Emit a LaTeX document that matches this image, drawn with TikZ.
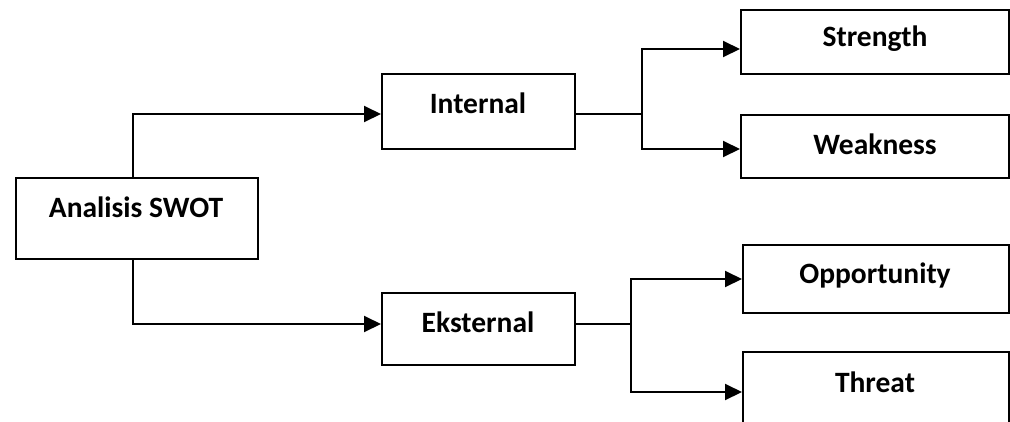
\documentclass[tikz,border=0pt]{standalone}
\usepackage{fontspec}
\setmainfont{Carlito}
\usetikzlibrary{arrows.meta}
\begin{document}
\begin{tikzpicture}[x=1pt,y=-1pt,
  box/.style={draw=black,line width=2pt,anchor=north west,inner sep=0pt},
  lbl/.style={font=\bfseries\fontsize{29.5}{34}\selectfont,inner sep=0pt},
  conn/.style={line width=2pt},
  arr/.style={line width=2pt,-{Triangle[length=17pt,width=16pt]}}]
\useasboundingbox (0,0) rectangle (1010,421);
\clip (0,0) rectangle (1010,421);
% boxes
\node[box,minimum width=242pt,minimum height=81pt] (swot) at (15,177) {};
\node[box,minimum width=193pt,minimum height=75pt] (internal) at (381,73) {};
\node[box,minimum width=193pt,minimum height=72pt] (eksternal) at (381,292) {};
\node[box,minimum width=268pt,minimum height=64pt] (strength) at (740,9) {};
\node[box,minimum width=268pt,minimum height=63pt] (weakness) at (740,114) {};
\node[box,minimum width=266pt,minimum height=68pt] (opportunity) at (742,244) {};
\node[box,minimum width=266pt,minimum height=90pt] (threat) at (742,351) {};
% texts
\node[lbl] (tswot) at (136,207) {Analisis SWOT};
\node[lbl] (tinternal) at (478,103) {Internal};
\node[lbl] (teksternal) at (478,322) {Eksternal};
\node[lbl] (tstrength) at (875,39) {Strength};
\node[lbl] (tweakness) at (875,144) {Weakness};
\node[lbl] (topportunity) at (875,275) {Opportunity};
\node[lbl] (tthreat) at (875,382) {Threat};
% connectors
\coordinate (s1) at (133,177);
\coordinate (s2) at (133,258);
\draw[arr] (s1) |- ([yshift=-2.5pt]internal.west);
\draw[arr] (s2) |- ([yshift=5pt]eksternal.west);
\coordinate (ja) at (642,114);
\coordinate (jb) at (631,324);
\draw[conn] (internal.east |- ja) -- (ja);
\draw[arr] (ja) |- ([yshift=-7pt]strength.west);
\draw[arr] (ja) |- ([yshift=-2.5pt]weakness.west);
\draw[conn] (eksternal.east |- jb) -- (jb);
\draw[arr] (jb) |- (opportunity.west);
\draw[arr] (jb) |- (threat.west |- 0,392);
\end{tikzpicture}
\end{document}
